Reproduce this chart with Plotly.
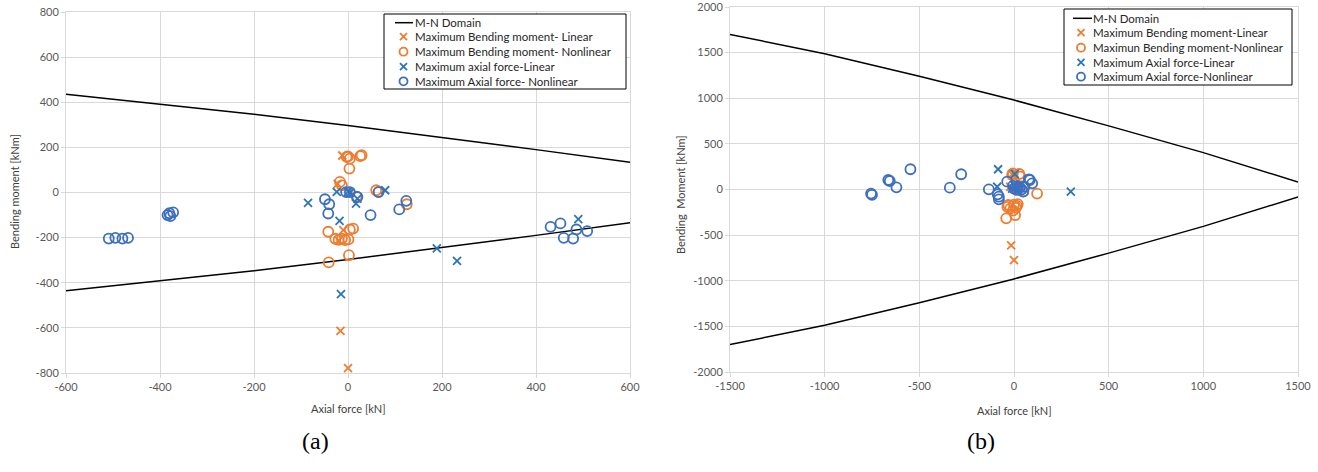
import plotly.graph_objects as go

# ---------------- Data: panel (a) ----------------
mn_a_N = [-600, -400, -200, 0, 200, 400, 600]
mn_a_M_upper = [436, 393, 347, 297, 245, 190, 134]
mn_a_M_lower = [-436, -393, -347, -297, -245, -190, -134]

bm_lin_a_N = [-12, -22, -10, -20, -16, 0]
bm_lin_a_M = [164, 38, -167, -212, -613, -778]

bm_nl_a_N = [-3, 4, 26, 29, 3, -17, -13, 18, 60, 65, 125, -42, -27, -20, -13, -6, 1, 4, 11, 2, -41, 0]
bm_nl_a_M = [158, 150, 161, 165, 106, 47, 32, -18, 10, 3, -52, -174, -205, -210, -205, -211, -208, -164, -160, -278, -310, 160]

af_lin_a_N = [-85, -24, 0, 20, 17, -18, 79, -15, 189, 232, 490, 5]
af_lin_a_M = [-46, 3, 3, -27, -49, -126, 10, -450, -248, -303, -118, 0]

af_nl_a_N = [-509, -495, -480, -468, -384, -380, -372, -378, -49, -40, -42, -4, 4, 20, 48, 65, 109, 124,
             431, 452, 459, 479, 486, 509]
af_nl_a_M = [-204, -201, -204, -201, -100, -92, -88, -105, -30, -52, -93, 2, 2, -20, -100, 2, -75, -37,
             -152, -137, -201, -204, -164, -171]

x_ticks_a = [-600, -400, -200, 0, 200, 400, 600]
y_ticks_a = [-800, -600, -400, -200, 0, 200, 400, 600, 800]

# ---------------- Data: panel (b) ----------------
mn_b_N = [-1500, -1000, -500, 0, 500, 1000, 1500]
mn_b_M_upper = [1700, 1488, 1242, 980, 697, 404, 82]
mn_b_M_lower = [-1700, -1488, -1242, -980, -697, -404, -82]

bm_lin_b_N = [-15, 0, -10, -20]
bm_lin_b_M = [-613, -774, 165, 30]

bm_nl_b_N = [-6, 28, -10, 34, 122, -41, 6, -30, 0, 20, -20, -5, 10, -35, 15, 30, 50]
bm_nl_b_M = [177, 170, 159, 141, -45, -316, -280, -170, -165, -160, -210, -230, -200, -190, -180, 20, -20]

af_lin_b_N = [-84, 4, -89, 300, 10, 20, 30, 0, -10]
af_lin_b_M = [222, 170, 30, -24, 20, 0, 40, 50, 10]

af_nl_b_N = [-755, -750, -664, -656, -621, -547, -339, -279, -133, -86, -80, -80, -36, 78, 96, 84,
             0, 15, 30, 48, 55, -5, 20, 40]
af_nl_b_M = [-45, -58, 104, 93, 24, 222, 20, 167, 2, -53, -79, -108, 86, 112, 68, 104,
             10, -5, 20, -24, 30, 40, 40, 0]

x_ticks_b = [-1500, -1000, -500, 0, 500, 1000, 1500]
y_ticks_b = [-2000, -1500, -1000, -500, 0, 500, 1000, 1500, 2000]

legend_a = ["M-N Domain", "Maximum Bending moment- Linear", "Maximum Bending moment- Nonlinear",
            "Maximum axial force-Linear", "Maximum Axial force- Nonlinear"]
legend_b = ["M-N Domain", "Maximum Bending moment-Linear", "Maximun Bending moment-Nonlinear",
            "Maximum Axial force-Linear", "Maximum Axial force-Nonlinear"]

ORANGE = "#ED7D31"
BLUE_X = "#2E75B6"
BLUE_O = "#3D6FC0"
FONT = "Lato"

W, H = 1318, 472


def fx(px):
    return min(1.0, max(0.0, px / W))


def fy(py):
    return min(1.0, max(0.0, 1 - py / H))


STYLES = [  # symbol, colour, size
    ("x-thin-open", ORANGE, 8),
    ("circle-open", ORANGE, 10),
    ("x-thin-open", BLUE_X, 8),
    ("circle-open", BLUE_O, 10),
]

fig = go.Figure()


def add_panel(xa, ya, mnN, mnU, mnL, series, names):
    fig.add_trace(go.Scatter(
        x=mnN + [None] + mnN, y=mnU + [None] + mnL, mode="lines",
        line=dict(color="black", width=1.5), name=names[0],
        xaxis=xa, yaxis=ya, showlegend=False))
    for (xs, ys), (sym, col, sz), nm in zip(series, STYLES, names[1:]):
        fig.add_trace(go.Scatter(
            x=xs, y=ys, mode="markers", name=nm, showlegend=False,
            marker=dict(symbol=sym, size=sz, color=col, line=dict(color=col, width=1.8)),
            xaxis=xa, yaxis=ya))


add_panel("x", "y", mn_a_N, mn_a_M_upper, mn_a_M_lower,
          [(bm_lin_a_N, bm_lin_a_M), (bm_nl_a_N, bm_nl_a_M), (af_lin_a_N, af_lin_a_M), (af_nl_a_N, af_nl_a_M)],
          legend_a)
add_panel("x2", "y2", mn_b_N, mn_b_M_upper, mn_b_M_lower,
          [(bm_lin_b_N, bm_lin_b_M), (bm_nl_b_N, bm_nl_b_M), (af_lin_b_N, af_lin_b_M), (af_nl_b_N, af_nl_b_M)],
          legend_b)

# ---------------- Custom legends (screen-pixel overlay axis x3/y3) ----------------
text_font = dict(family=FONT, size=11.5, color="#262626")


def add_legend(box, rows, sym_x, line_x, text_x, names):
    x0, y0, x1, y1 = box
    fig.add_shape(type="rect", xref="x3", yref="y3", x0=x0, y0=y0, x1=x1, y1=y1,
                  line=dict(color="black", width=1), fillcolor="white", layer="below")
    fig.add_shape(type="line", xref="x3", yref="y3", x0=line_x[0], x1=line_x[1], y0=rows[0], y1=rows[0],
                  line=dict(color="black", width=1.5))
    for r, (sym, col, sz) in zip(rows[1:], STYLES):
        fig.add_trace(go.Scatter(x=[sym_x], y=[r], mode="markers", showlegend=False, hoverinfo="skip",
                                 marker=dict(symbol=sym, size=sz - 2 if "circle" in sym else sz - 1,
                                             color=col, line=dict(color=col, width=1.8)),
                                 xaxis="x3", yaxis="y3"))
    for r, nm in zip(rows, names):
        fig.add_annotation(xref="x3", yref="y3", x=text_x, y=r, text=nm, showarrow=False,
                           xanchor="left", yanchor="middle", font=text_font)


add_legend((384, 14, 626, 89), [22.7, 36.7, 51.7, 66.7, 81.3], 403.5, (395, 413), 413, legend_a)
add_legend((1064, 9, 1292, 85), [18.3, 32.7, 47.7, 62.3, 76.7], 1081, (1073, 1092), 1091, legend_b)

GRID = "#d9d9d9"
axis_common = dict(showgrid=True, gridcolor=GRID, gridwidth=1, zeroline=False,
                   showline=True, linecolor=GRID, linewidth=1, mirror=True,
                   ticks="outside", ticklen=4, tickcolor=GRID, automargin=False,
                   ticklabeloverflow="allow",
                   tickfont=dict(family=FONT, size=11, color="#595959"))


def tick_kw(vals):
    return dict(tickmode="array", tickvals=vals, ticktext=[str(v) for v in vals])


fig.update_layout(
    width=W, height=H, margin=dict(l=0, r=0, t=0, b=0),
    paper_bgcolor="white", plot_bgcolor="rgba(0,0,0,0)",
    xaxis=dict(domain=[fx(66), fx(630)], range=[-600, 600], anchor="y", **tick_kw(x_ticks_a), **axis_common),
    yaxis=dict(domain=[fy(373), fy(12)], range=[-800, 800], anchor="x", **tick_kw(y_ticks_a), **axis_common),
    xaxis2=dict(domain=[fx(730), fx(1298)], range=[-1500, 1500], anchor="y2", **tick_kw(x_ticks_b), **axis_common),
    yaxis2=dict(domain=[fy(372), fy(7)], range=[-2000, 2000], anchor="x2", **tick_kw(y_ticks_b), **axis_common),
    xaxis3=dict(domain=[0, 1], range=[0, W], visible=False, anchor="y3", fixedrange=True),
    yaxis3=dict(domain=[0, 1], range=[H, 0], visible=False, anchor="x3", fixedrange=True),
    showlegend=False,
)

title_font = dict(family=FONT, size=11, color="#404040")
ann = [
    dict(text="Bending moment [kNm]", x=fx(14), y=fy(192), textangle=-90, font=title_font),
    dict(text="Axial force [kN]", x=fx(348), y=fy(408), font=title_font),
    dict(text="Bending  Moment [kNm]", x=fx(680), y=fy(195), textangle=-90, font=title_font),
    dict(text="Axial force [kN]", x=fx(1014), y=fy(410), font=title_font),
    dict(text="(a)", x=fx(315), y=fy(441), font=dict(family="Liberation Serif", size=24, color="black")),
    dict(text="(b)", x=fx(981), y=fy(441), font=dict(family="Liberation Serif", size=24, color="black")),
]
for a in ann:
    fig.add_annotation(xref="paper", yref="paper", showarrow=False,
                       xanchor="center", yanchor="middle", **a)

# Remove the default 8px page margin so the figure sits at the window's corner.
fig.write_html("out.html",
               config={"displayModeBar": False},
               post_script="document.body.style.margin='0';document.body.style.overflow='hidden';")
